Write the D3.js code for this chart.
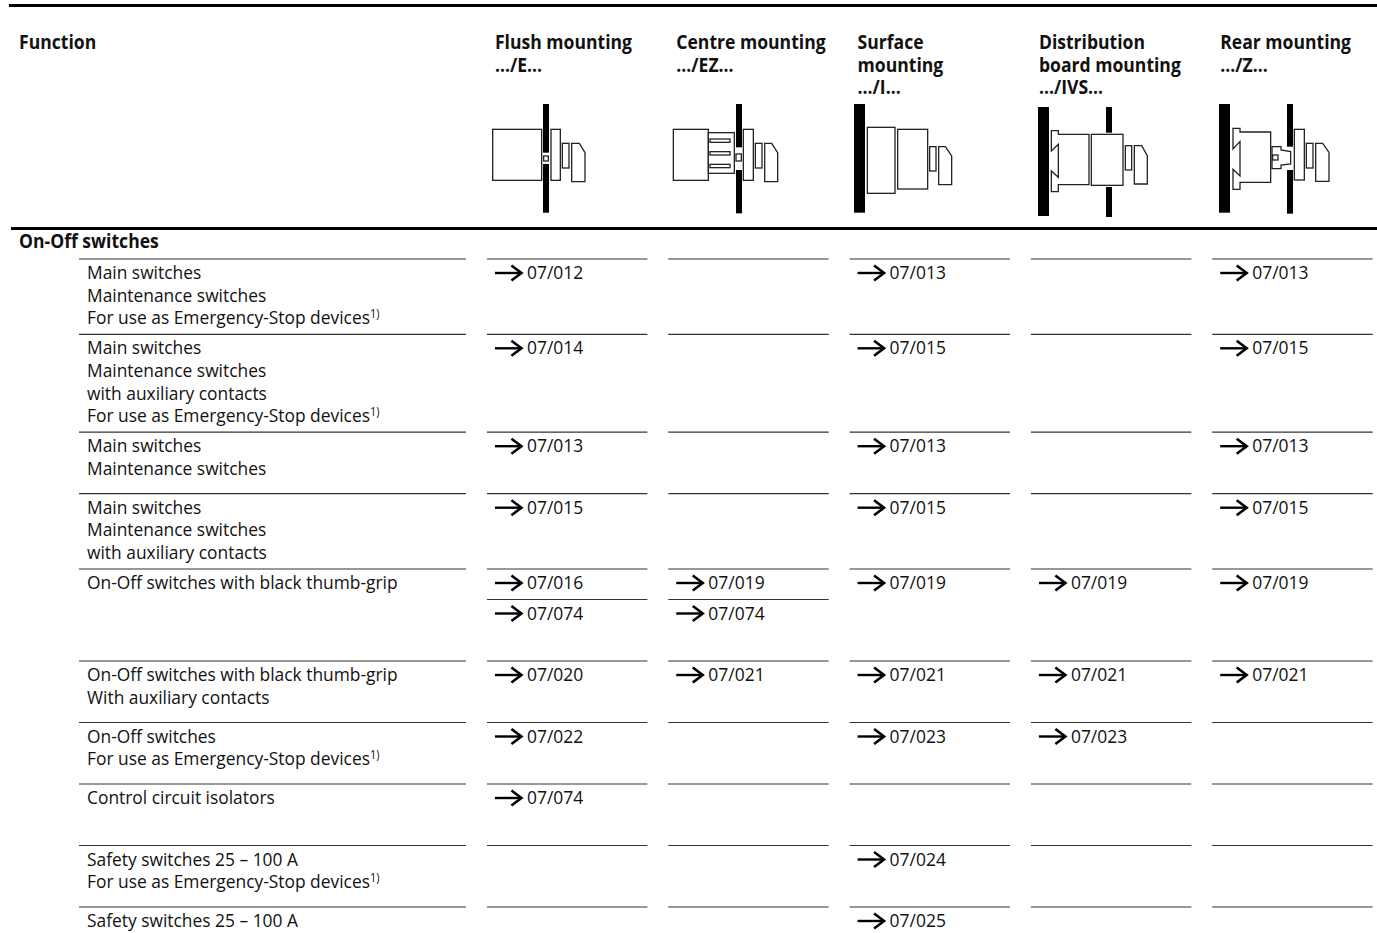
<!DOCTYPE html>
<html>
<head>
<meta charset="utf-8">
<script src="https://cdn.jsdelivr.net/npm/d3@7"></script>
<style>
  html, body { margin: 0; padding: 0; background: #fff; }
  svg { display: block; }
  text { font-family: "Open Sans", "Noto Sans", sans-serif; fill: #111; }
</style>
</head>
<body>
<svg id="table"></svg>
<script>
// column headers
var functionHeader = "Function";
var sectionTitle = "On-Off switches";
var columnHeaders = [
    ["Flush mounting", ".../E..."],
    ["Centre mounting", ".../EZ..."],
    ["Surface", "mounting", ".../I..."],
    ["Distribution", "board mounting", ".../IVS..."],
    ["Rear mounting", ".../Z..."]
];

// row labels, "^" marks the footnote
var rowLabels = [
    ["Main switches", "Maintenance switches", "For use as Emergency-Stop devices^"],
    ["Main switches", "Maintenance switches", "with auxiliary contacts", "For use as Emergency-Stop devices^"],
    ["Main switches", "Maintenance switches"],
    ["Main switches", "Maintenance switches", "with auxiliary contacts"],
    ["On-Off switches with black thumb-grip"],
    ["On-Off switches with black thumb-grip", "With auxiliary contacts"],
    ["On-Off switches", "For use as Emergency-Stop devices^"],
    ["Control circuit isolators"],
    ["Safety switches 25 \u2013 100 A", "For use as Emergency-Stop devices^"],
    ["Safety switches 25 \u2013 100 A"]
];

// page references per column, one list for each row
var flushRefs = [["07/012"], ["07/014"], ["07/013"], ["07/015"], ["07/016", "07/074"], ["07/020"], ["07/022"], ["07/074"], [], []];
var centreRefs = [[], [], [], [], ["07/019", "07/074"], ["07/021"], [], [], [], []];
var surfaceRefs = [["07/013"], ["07/015"], ["07/013"], ["07/015"], ["07/019"], ["07/021"], ["07/023"], [], ["07/024"], ["07/025"]];
var boardRefs = [[], [], [], [], ["07/019"], ["07/021"], ["07/023"], [], [], []];
var rearRefs = [["07/013"], ["07/015"], ["07/013"], ["07/015"], ["07/019"], ["07/021"], [], [], [], []];
var columnRefs = [flushRefs, centreRefs, surfaceRefs, boardRefs, rearRefs];

var footnote = "1)";

// page size
var width = 1377, height = 933;
var svg = d3.select("#table").attr("width", width).attr("height", height);

// the source font is a narrow one, so squeeze Open Sans sideways
var fontSize = 19;
var linePitch = 22.6;

function addText(x, y, str, bold, squeeze) {
    var t = svg.append("text")
        .attr("transform", "translate(" + x + "," + y + ") scale(" + squeeze + ",1)")
        .style("font-size", fontSize + "px")
        .style("font-weight", bold ? 700 : 400);
    var parts = str.split("^");
    t.append("tspan").text(parts[0]);
    if (parts.length > 1) {
        t.append("tspan").attr("dy", -6).style("font-size", "12px").text(footnote);
    }
    return t;
}

// columns sit on a band scale, the function column is outside of it
var x = d3.scaleBand()
    .domain(d3.range(columnHeaders.length))
    .range([476.6, 1383])
    .paddingInner(0.115)
    .paddingOuter(0.057);

// row tops come from the amount of text in each row
function rowHeight(i) {
    var extra = d3.max(columnRefs, c => c[i].length) > 1 ? 30.5 : 0;
    return Math.max(61.5, rowLabels[i].length * linePitch + 7.5) + extra;
}
var rowTop = [259];
rowLabels.forEach((d, i) => rowTop.push(rowTop[i] + rowHeight(i)));

// heavy rules
[[9, 5.5], [11, 228.5]].forEach(d => {
    svg.append("line")
        .attr("x1", d[0]).attr("x2", width)
        .attr("y1", d[1]).attr("y2", d[1])
        .attr("stroke", "#000").attr("stroke-width", 3);
});

// header
addText(19, 49, functionHeader, true, 0.925);
columnHeaders.forEach((lines, c) => {
    lines.forEach((str, i) => addText(x(c) + 8, 49 + i * 22.5, str, true, 0.925));
});
addText(19, 248, sectionTitle, true, 0.925);

function hRule(x1, x2, y) {
    svg.append("line")
        .attr("x1", x1).attr("x2", x2)
        .attr("y1", y).attr("y2", y)
        .attr("stroke", "#333").attr("stroke-width", 1.2);
}

function arrow(ax, ay) {
    svg.append("path")
        .attr("d", "M" + ax + "," + ay + "H" + (ax + 26))
        .attr("stroke", "#000").attr("stroke-width", 2.4).attr("fill", "none");
    svg.append("path")
        .attr("d", "M" + (ax + 16.5) + "," + (ay - 7.5) + "L" + (ax + 26.5) + "," + ay + "L" + (ax + 16.5) + "," + (ay + 7.5))
        .attr("stroke", "#000").attr("stroke-width", 2.6).attr("fill", "none");
}

// rows
rowLabels.forEach((lines, r) => {
    var top = rowTop[r];
    hRule(79, 466, top);
    x.domain().forEach(c => hRule(x(c), x(c) + x.bandwidth(), top));
    lines.forEach((str, i) => addText(87, top + 20 + i * linePitch, str, false, 0.915));

    columnRefs.forEach((refs, c) => {
        refs[r].forEach((ref, k) => {
            var y0 = top + k * 30.5;
            if (k > 0) hRule(x(c), x(c) + x.bandwidth(), y0);
            arrow(x(c) + 8, y0 + 14);
            addText(x(c) + 40, y0 + 20, ref, false, 0.92);
        });
    });
});

// mounting sketches, points at 3x
var icons = svg.append("g").attr("fill", "#fff").attr("stroke", "#222").attr("stroke-width", 1.3);

function sketch(ox, oy) {
    return {
        box: (x0, y0, x1, y1) => icons.append("rect")
            .attr("x", ox + x0 / 3).attr("y", oy + y0 / 3)
            .attr("width", (x1 - x0) / 3).attr("height", (y1 - y0) / 3),
        wall: (x0, y0, x1, y1) => icons.append("rect")
            .attr("x", ox + x0 / 3).attr("y", oy + y0 / 3)
            .attr("width", (x1 - x0) / 3).attr("height", (y1 - y0) / 3)
            .attr("fill", "#000").attr("stroke", "none"),
        poly: (pts) => icons.append("path")
            .attr("d", d3.line().x(p => ox + p[0] / 3).y(p => oy + p[1] / 3)(pts) + "Z")
    };
}

// knob on the front of every switch
function knob(s, x0, x1, y0, y1, cutX, cutY) {
    s.poly([[x0, y0], [cutX, y0], [x1, cutY], [x1, y1], [x0, y1]]);
}

// flush
var s = sketch(480, 90);
s.wall(189, 42, 207, 188);
s.wall(189, 222, 207, 368);
s.box(38, 118, 185, 271);
s.box(191, 198, 205, 213);
s.box(213, 118, 241, 271);
s.box(247, 160, 267, 234);
knob(s, 275, 315, 160, 275, 298, 188);

// centre
s = sketch(480, 90);
s.wall(768, 42, 786, 172);
s.wall(768, 240, 786, 370);
s.box(580, 118, 685, 271);
s.box(685, 128, 763, 250);
s.box(690, 147, 750, 157);
s.box(690, 185, 750, 195);
s.box(690, 223, 750, 233);
s.box(768, 192, 784, 213);
s.box(790, 118, 820, 271);
s.box(826, 160, 846, 234);
knob(s, 854, 893, 160, 275, 875, 188);

// surface
s = sketch(840, 90);
s.wall(42, 42, 75, 368);
s.box(82, 112, 165, 310);
s.box(173, 118, 263, 297);
s.box(269, 170, 288, 243);
knob(s, 296, 335, 170, 284, 316, 198);

// distribution board
s.wall(594, 51, 627, 378);
s.wall(798, 51, 816, 128);
s.wall(798, 291, 816, 381);
s.poly([[634, 122], [655, 122], [655, 133], [747, 133], [747, 284], [655, 284], [655, 305], [634, 305], [634, 243], [655, 262], [655, 163], [634, 183]]);
s.box(754, 133, 849, 286);
s.box(856, 167, 875, 240);
knob(s, 883, 922, 167, 282, 905, 197);

// rear
s = sketch(1200, 90);
s.wall(57, 42, 90, 368);
s.wall(261, 42, 279, 170);
s.wall(261, 240, 279, 371);
s.poly([[99, 115], [120, 115], [120, 126], [212, 126], [212, 277], [120, 277], [120, 298], [99, 298], [99, 238], [120, 258], [120, 155], [99, 177]]);
s.poly([[216, 170], [243, 170], [243, 180], [272, 185], [272, 222], [243, 225], [243, 236], [216, 236]]);
s.box(218, 195, 234, 210);
s.box(283, 118, 313, 270);
s.box(319, 160, 339, 234);
knob(s, 347, 387, 160, 274, 368, 187);
</script>
</body>
</html>
